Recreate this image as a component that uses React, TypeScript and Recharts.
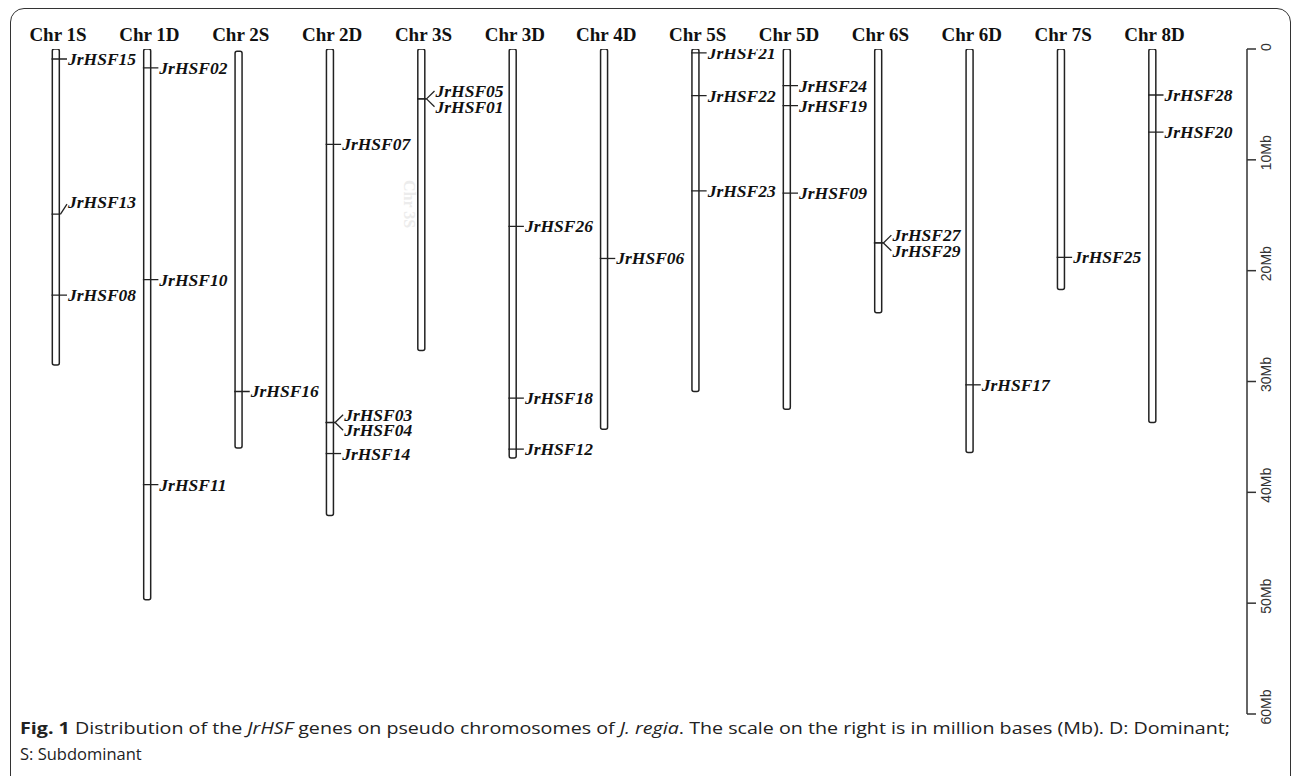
import React from "react";
import { ComposedChart, Bar, Scatter, XAxis, YAxis } from "recharts";

// chromosome names, start and end (Mb)
const chromosomes = ["Chr 1S", "Chr 1D", "Chr 2S", "Chr 2D", "Chr 3S", "Chr 3D", "Chr 4D", "Chr 5S", "Chr 5D", "Chr 6S", "Chr 6D", "Chr 7S", "Chr 8D"];
const chrStart = [0, 0, 0.2, 0, 0, 0, 0, 0, 0, 0, 0, 0, 0];
const chrEnd = [28.5, 49.7, 36.0, 42.1, 27.2, 36.9, 34.3, 30.9, 32.5, 23.8, 36.4, 21.7, 33.7];

// genes: name, chromosome index, position (Mb)
const geneNames = [
  "JrHSF15", "JrHSF13", "JrHSF08",
  "JrHSF02", "JrHSF10", "JrHSF11",
  "JrHSF16",
  "JrHSF07", "JrHSF03", "JrHSF04", "JrHSF14",
  "JrHSF05", "JrHSF01",
  "JrHSF26", "JrHSF18", "JrHSF12",
  "JrHSF06",
  "JrHSF21", "JrHSF22", "JrHSF23",
  "JrHSF24", "JrHSF19", "JrHSF09",
  "JrHSF27", "JrHSF29",
  "JrHSF17",
  "JrHSF25",
  "JrHSF28", "JrHSF20",
];
const geneChr = [0, 0, 0, 1, 1, 1, 2, 3, 3, 3, 3, 4, 4, 5, 5, 5, 6, 7, 7, 7, 8, 8, 8, 9, 9, 10, 11, 12, 12];
const genePos = [
  0.9, 14.9, 22.2,
  1.7, 20.8, 39.3,
  30.9,
  8.6, 33.7, 33.7, 36.5,
  4.5, 4.5,
  16.0, 31.5, 36.1,
  18.9,
  0.35, 4.2, 12.8,
  3.3, 5.1, 13.0,
  17.5, 17.5,
  30.3,
  18.8,
  4.15, 7.5,
];

const scaleTicks = [0, 10, 20, 30, 40, 50, 60];

const chrData = chromosomes.map((name, i) => ({ idx: i, name, span: [chrStart[i], chrEnd[i]] }));

const geneData = geneNames.map((name, i) => {
  const same = geneNames.filter((_, j) => geneChr[j] === geneChr[i] && genePos[j] === genePos[i]);
  const fork = same.length > 1 ? (same.indexOf(name) === 0 ? -1 : 1) : 0;
  return { idx: geneChr[i], pos: genePos[i], name, fork };
});

// labels nudged upward to avoid crowding
const LIFT: Record<string, number> = { JrHSF13: -12 };

const serif = "'Liberation Serif', 'Times New Roman', serif";
const sans = "'Open Sans', 'Noto Sans', sans-serif";

const GeneMark = (props: any) => {
  const { cx, cy, payload } = props;
  const labelStyle = { fontFamily: serif, fontWeight: 700, fontStyle: "italic" as const, fontSize: 17.5, fill: "#111" };
  const lift = LIFT[payload.name] || 0;
  if (payload.fork !== 0) {
    const ty = cy + payload.fork * 7.8;
    return (
      <g>
        <line x1={cx - 4.5} x2={cx + 5} y1={cy} y2={cy} stroke="#222" strokeWidth={1.3} />
        <line x1={cx + 5} x2={cx + 13} y1={cy} y2={ty} stroke="#222" strokeWidth={1.3} />
        <text x={cx + 14} y={ty + 6} style={labelStyle}>{payload.name}</text>
      </g>
    );
  }
  if (lift !== 0) {
    return (
      <g>
        <line x1={cx - 4.5} x2={cx + 4.5} y1={cy} y2={cy} stroke="#222" strokeWidth={1.3} />
        <line x1={cx + 4.5} x2={cx + 11} y1={cy} y2={cy + lift + 2} stroke="#222" strokeWidth={1.3} />
        <text x={cx + 12} y={cy + lift + 6} style={labelStyle}>{payload.name}</text>
      </g>
    );
  }
  return (
    <g>
      <line x1={cx - 4.5} x2={cx + 11} y1={cy} y2={cy} stroke="#222" strokeWidth={1.3} />
      <text x={cx + 12} y={cy + 6} style={labelStyle}>{payload.name}</text>
    </g>
  );
};

const HeaderTick = (props: any) => {
  const { x, payload } = props;
  return (
    <text x={x + 2} y={41} textAnchor="middle" style={{ fontFamily: serif, fontWeight: 700, fontSize: 19, fill: "#111" }}>
      {chromosomes[payload.value]}
    </text>
  );
};

const ScaleTick = (props: any) => {
  const { x, y, payload } = props;
  const lx = x + 8;
  const ly = y - (payload.value === 0 ? 2 : 7);
  return (
    <text
      x={lx}
      y={ly}
      transform={`rotate(-90 ${lx} ${ly})`}
      textAnchor="middle"
      dominantBaseline="central"
      style={{ fontFamily: "'Liberation Sans', Arial, sans-serif", fontSize: 14, fill: "#333" }}
    >
      {payload.value === 0 ? "0" : `${payload.value}Mb`}
    </text>
  );
};

export default function App() {
  return (
    <div style={{ position: "relative", width: 1293, height: 776, overflow: "hidden", background: "#fff" }}>
      <style>{`body{margin:0}`}</style>
      <div
        style={{
          position: "absolute",
          left: 10,
          top: 8,
          width: 1281,
          height: 820,
          border: "1.5px solid #333",
          borderRadius: 14,
          boxSizing: "border-box",
        }}
      />
      <div style={{ position: "absolute", left: 0, top: 0 }}>
        <ComposedChart width={1293} height={776} data={chrData} margin={{ top: 19, right: 0, bottom: 62, left: 5.74 }}>
          <XAxis
            type="number"
            dataKey="idx"
            xAxisId="x"
            orientation="top"
            domain={[-0.55, 13.034]}
            ticks={[0, 1, 2, 3, 4, 5, 6, 7, 8, 9, 10, 11, 12]}
            interval={0}
            allowDataOverflow
            height={30}
            axisLine={false}
            tickLine={false}
            tick={<HeaderTick />}
          />
          <YAxis
            type="number"
            yAxisId="y"
            orientation="right"
            domain={[0, 60]}
            reversed
            ticks={scaleTicks}
            interval={0}
            allowDataOverflow
            width={46}
            tickSize={9}
            axisLine={{ stroke: "#333", strokeWidth: 1.5 }}
            tickLine={{ stroke: "#333", strokeWidth: 1.5 }}
            tick={<ScaleTick />}
          />
          <Bar
            xAxisId="x"
            yAxisId="y"
            dataKey="span"
            barSize={7}
            fill="#fff"
            stroke="#222"
            strokeWidth={1.5}
            radius={2}
            isAnimationActive={false}
          />
          <Scatter
            xAxisId="x"
            yAxisId="y"
            data={geneData}
            dataKey="pos"
            shape={<GeneMark />}
            isAnimationActive={false}
          />
        </ComposedChart>
      </div>
      <svg style={{ position: "absolute", left: 0, top: 0, pointerEvents: "none" }} width={1293} height={776}>
        <text
          x={404}
          y={180}
          transform="rotate(90 404 180)"
          style={{ fontFamily: serif, fontSize: 16, fontWeight: 700, fill: "#ececec" }}
        >
          Chr 3S
        </text>
        <text
          x={20}
          y={734}
          textLength={1210}
          lengthAdjust="spacingAndGlyphs"
          style={{ fontFamily: sans, fontSize: 16.5, fill: "#222" }}
        >
          <tspan fontWeight={700}>Fig. 1</tspan> Distribution of the <tspan fontStyle="italic">JrHSF</tspan> genes on
          pseudo chromosomes of <tspan fontStyle="italic">J. regia</tspan>. The scale on the right is in million bases
          (Mb). D: Dominant;
        </text>
        <text x={20} y={760} style={{ fontFamily: sans, fontSize: 16.5, fill: "#222" }}>
          S: Subdominant
        </text>
      </svg>
    </div>
  );
}
